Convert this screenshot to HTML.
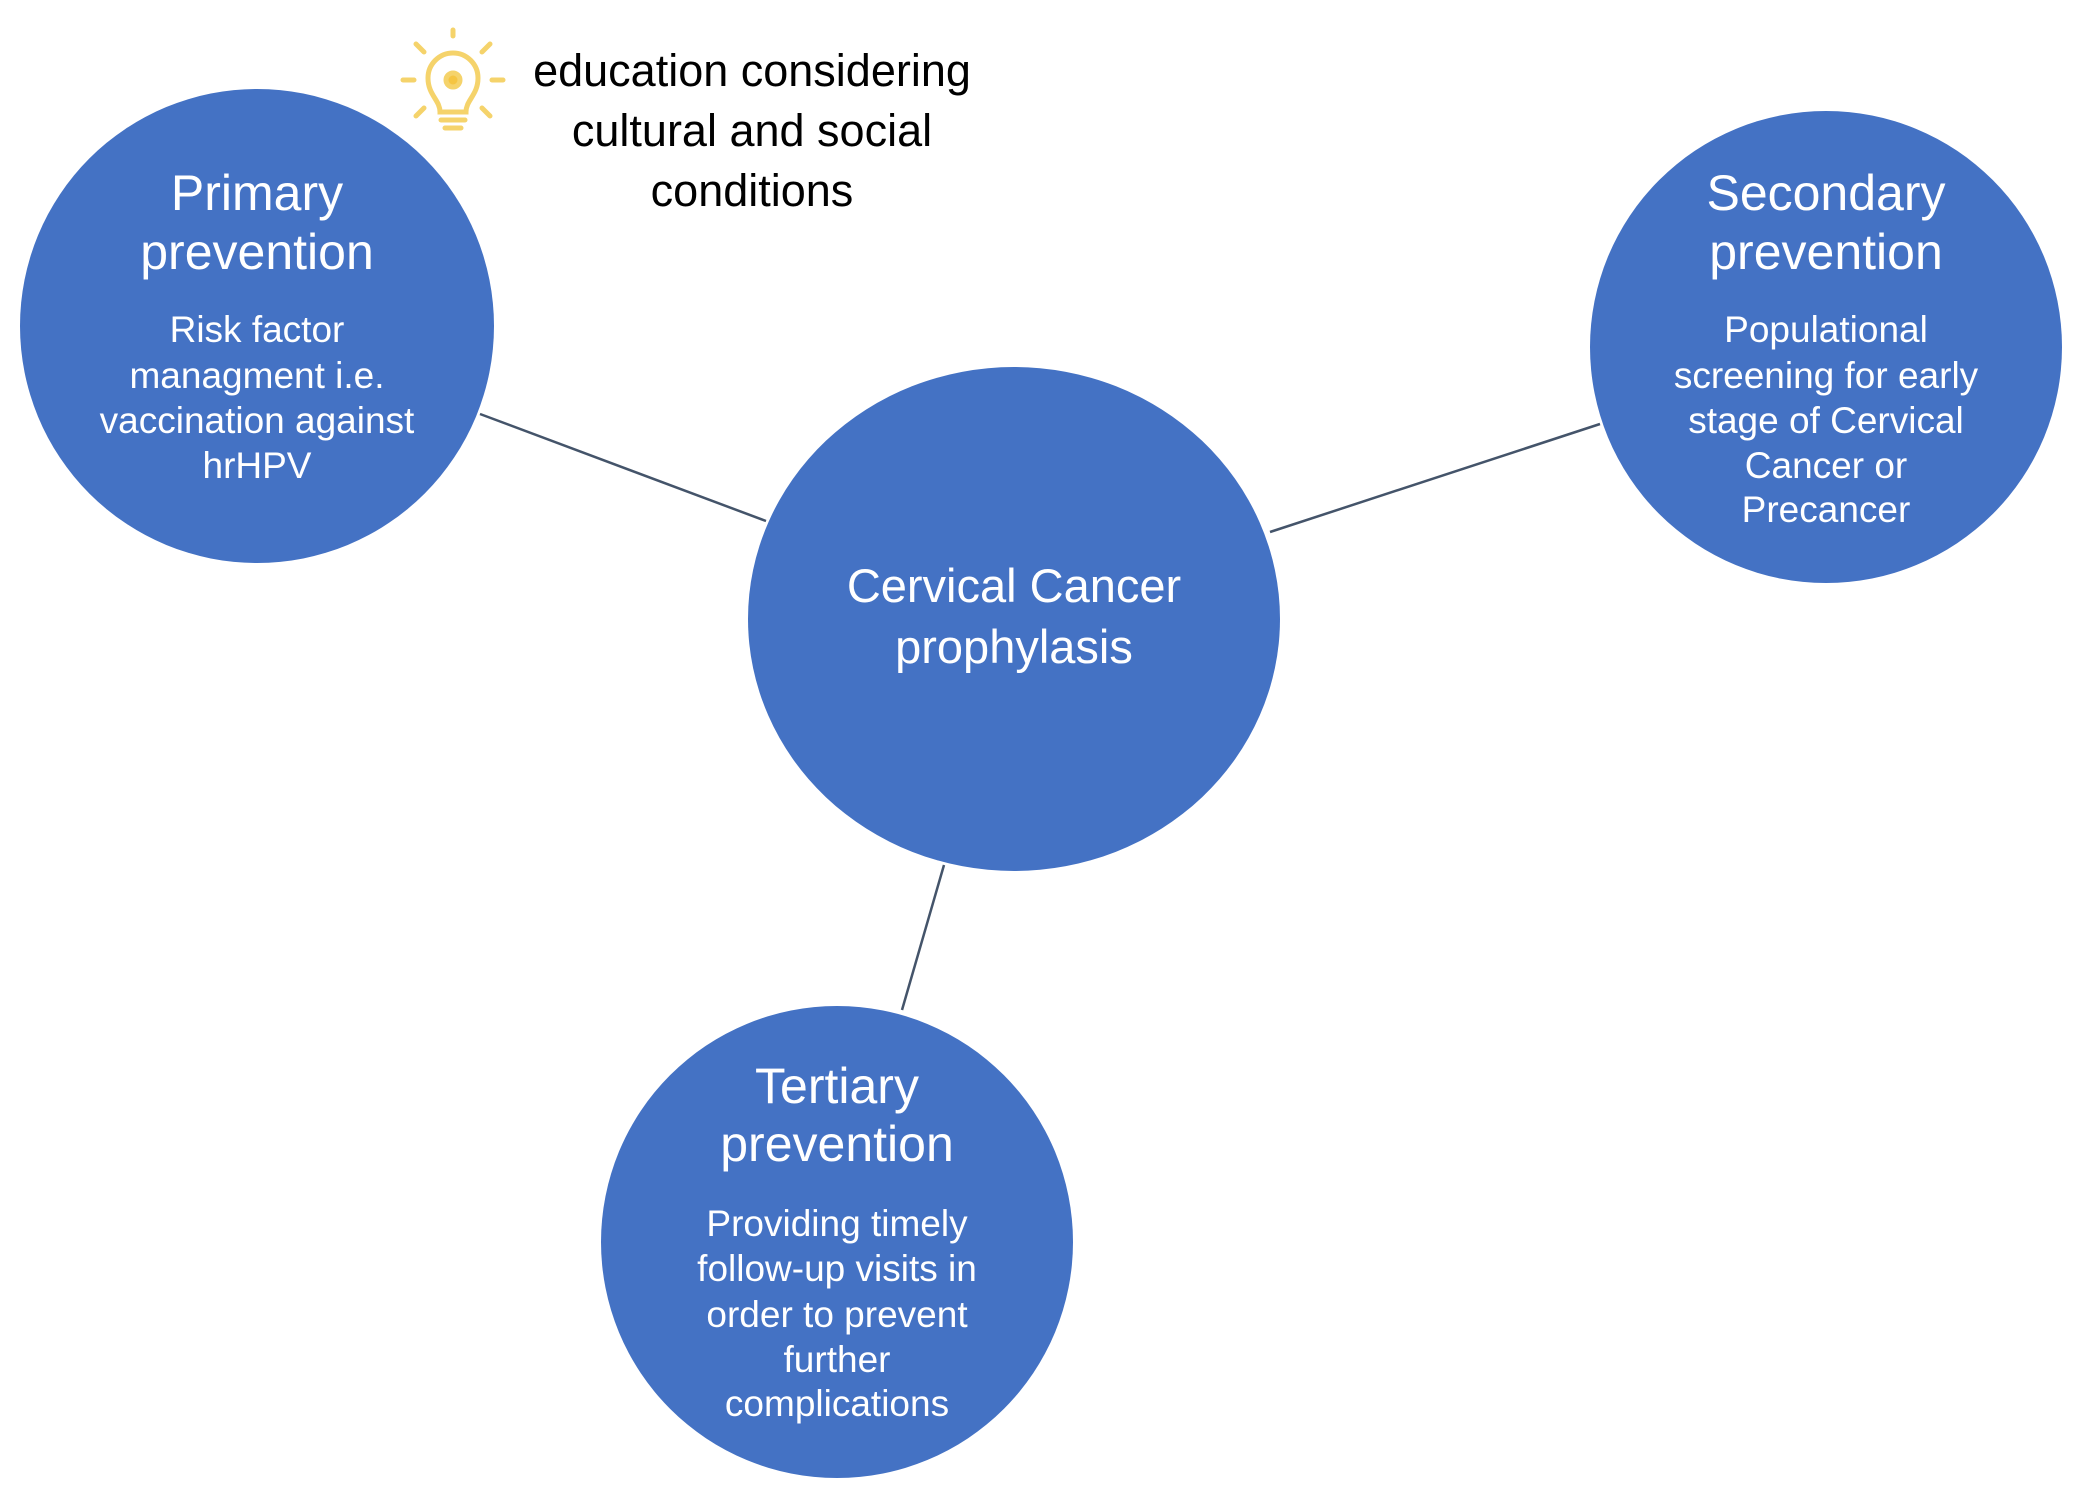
<!DOCTYPE html>
<html><head><meta charset="utf-8"><style>
html,body{margin:0;padding:0;background:#fff;}
svg{display:block;}
text{font-family:"Liberation Sans",sans-serif;}
</style></head><body>
<svg width="2079" height="1494" viewBox="0 0 2079 1494" xmlns="http://www.w3.org/2000/svg">
<g stroke="#44546A" stroke-width="2.5">
<line x1="480" y1="414" x2="766" y2="521"/>
<line x1="1270" y1="532" x2="1600" y2="424"/>
<line x1="944" y1="865" x2="902" y2="1010"/>
</g>
<g fill="#4472C4">
<circle cx="257" cy="326" r="237"/>
<circle cx="1826" cy="347" r="236"/>
<ellipse cx="1014" cy="619" rx="266" ry="252"/>
<circle cx="837" cy="1242" r="236"/>
</g>
<g stroke="#F5D36B" stroke-width="5" fill="none" stroke-linecap="round">
<path d="M440 112 C440 100 428 95 428 78 A25 25 0 1 1 478 78 C478 95 466 100 466 112 Z"/>
<line x1="441" y1="120" x2="465" y2="120"/>
<line x1="445" y1="128" x2="461" y2="128"/>
<line x1="453" y1="36" x2="453" y2="30"/>
<line x1="414" y1="80" x2="403" y2="80"/>
<line x1="492" y1="80" x2="503" y2="80"/>
<line x1="424" y1="52" x2="416" y2="44"/>
<line x1="482" y1="52" x2="490" y2="44"/>
<line x1="424" y1="108" x2="416" y2="116"/>
<line x1="482" y1="108" x2="490" y2="116"/>
<circle cx="453" cy="80" r="7" fill="#F5C542"/>
</g>
<g fill="#000" font-size="45" text-anchor="middle">
<text x="752" y="86">education considering</text>
<text x="752" y="146">cultural and social</text>
<text x="752" y="206">conditions</text>
</g>
<g fill="#fff" text-anchor="middle">
<g font-size="50">
<text x="257" y="210">Primary</text>
<text x="257" y="269">prevention</text>
<text x="1826" y="210">Secondary</text>
<text x="1826" y="269">prevention</text>
<text x="837" y="1103">Tertiary</text>
<text x="837" y="1161">prevention</text>
</g>
<g font-size="47">
<text x="1014" y="602">Cervical Cancer</text>
<text x="1014" y="663">prophylasis</text>
</g>
<g font-size="37">
<text x="257" y="342">Risk factor</text>
<text x="257" y="388">managment i.e.</text>
<text x="257" y="433">vaccination against</text>
<text x="257" y="478">hrHPV</text>
<text x="1826" y="342">Populational</text>
<text x="1826" y="388">screening for early</text>
<text x="1826" y="433">stage of Cervical</text>
<text x="1826" y="478">Cancer or</text>
<text x="1826" y="522">Precancer</text>
<text x="837" y="1236">Providing timely</text>
<text x="837" y="1281">follow-up visits in</text>
<text x="837" y="1327">order to prevent</text>
<text x="837" y="1372">further</text>
<text x="837" y="1416">complications</text>
</g>
</g>
</svg>
</body></html>
